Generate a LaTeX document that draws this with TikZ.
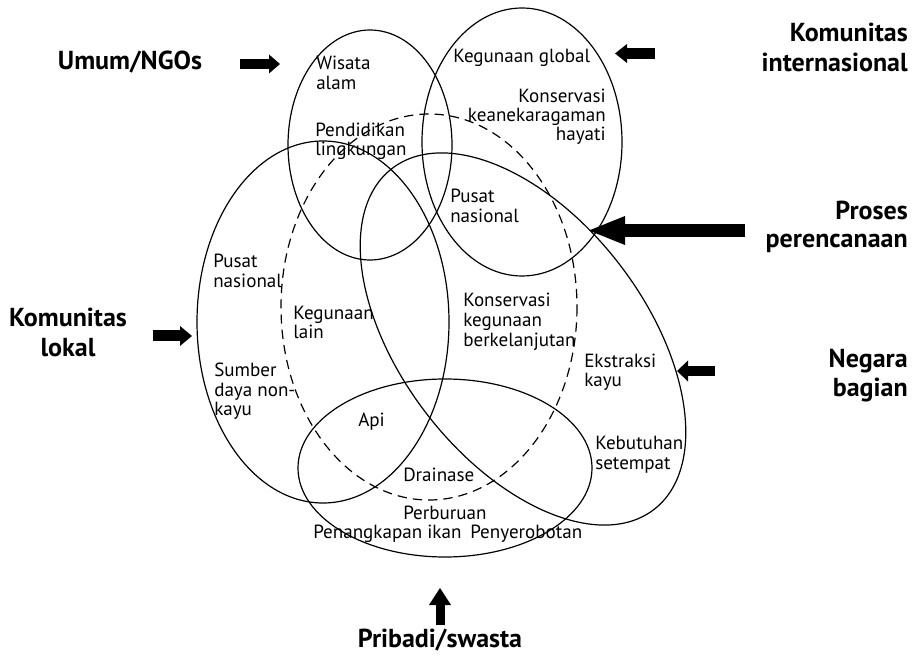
\documentclass[tikz,border=0pt]{standalone}
\usepackage{fontspec}
\setmainfont{PT Sans}
\usetikzlibrary{arrows.meta}
\begin{document}
\begin{tikzpicture}[x=0.75pt,y=-0.75pt,
  ring/.style={draw,line width=0.9pt},
  dashring/.style={draw,line width=0.9pt,dash pattern=on 7pt off 4.5pt},
  lbl/.style={inner sep=0pt,font=\fontsize{14.3}{15}\selectfont},
  biglbl/.style={inner sep=0pt,font=\bfseries\fontsize{19.5}{22}\selectfont},
  blk/.style={line width=#1*0.75pt},
]
\useasboundingbox (0,0) rectangle (915,659);

% ellipses
\coordinate (c1) at (370,145);
\coordinate (c2) at (522,142);
\coordinate (c3) at (323,322);
\coordinate (c4) at (523,339);
\coordinate (c5) at (445,468);
\coordinate (c6) at (429,307);
\draw[ring] (c1) ellipse [x radius=82, y radius=115];
\draw[ring] (c2) ellipse [x radius=100, y radius=134];
\draw[ring] (c3) ellipse [x radius=126, y radius=181];
\draw[ring,rotate around={-52.5:(c4)}] (c4) ellipse [x radius=215, y radius=122];
\draw[ring] (c5) ellipse [x radius=147, y radius=89];
\draw[dashring] (c6) ellipse [x radius=148, y radius=193];

% small labels
\node[lbl,anchor=base west] (t1a) at (316,70) {Wisata};
\node[lbl,anchor=base west] (t1b) at (316,90) {alam};
\node[lbl,anchor=base west] (t2) at (453,63) {Kegunaan global};
\node[lbl,anchor=base east] (t3a) at (606,103) {Konservasi};
\node[lbl,anchor=base east] (t3b) at (606,122) {keanekaragaman};
\node[lbl,anchor=base east] (t3c) at (606,141) {hayati};
\node[lbl,anchor=base west] (t4a) at (315,137) {Pendidikan};
\node[lbl,anchor=base west] (t4b) at (315,156) {lingkungan};
\node[lbl,anchor=base west] (t5a) at (450,203) {Pusat};
\node[lbl,anchor=base west] (t5b) at (450,223) {nasional};
\node[lbl,anchor=base west] (t6a) at (213,268) {Pusat};
\node[lbl,anchor=base west] (t6b) at (213,288) {nasional};
\node[lbl,anchor=base west] (t7a) at (293,320) {Kegunaan};
\node[lbl,anchor=base west] (t7b) at (293,339) {lain};
\node[lbl,anchor=base west] (t8a) at (463,307) {Konservasi};
\node[lbl,anchor=base west] (t8b) at (463,327) {kegunaan};
\node[lbl,anchor=base west] (t8c) at (463,347) {berkelanjutan};
\node[lbl,anchor=base west] (t9a) at (214,377) {Sumber};
\node[lbl,anchor=base west] (t9b) at (214,397) {daya non-};
\node[lbl,anchor=base west] (t9c) at (214,416) {kayu};
\node[lbl,anchor=base west] (t10a) at (584,368) {Ekstraksi};
\node[lbl,anchor=base west] (t10b) at (584,387) {kayu};
\node[lbl,anchor=base west] (t11) at (358,427) {Api};
\node[lbl,anchor=base west] (t12a) at (595,450) {Kebutuhan};
\node[lbl,anchor=base west] (t12b) at (595,470) {setempat};
\node[lbl,anchor=base west] (t13) at (403,482) {Drainase};
\node[lbl,anchor=base west] (t14) at (403,519) {Perburuan};
\node[lbl,anchor=base west] (t15) at (313,538) {Penangkapan ikan};
\node[lbl,anchor=base west] (t16) at (470,538) {Penyerobotan};

% actor labels
\node[biglbl,anchor=base] (umum) at (130,70) {Umum/NGOs};
\node[biglbl,anchor=base east] (intA) at (908,42) {Komunitas};
\node[biglbl,anchor=base east] (intB) at (908,72) {internasional};
\node[biglbl,anchor=base east] (prosA) at (908,220) {Proses};
\node[biglbl,anchor=base east] (prosB) at (908,248) {perencanaan};
\node[biglbl,anchor=base east] (negA) at (908,368) {Negara};
\node[biglbl,anchor=base east] (negB) at (908,397) {bagian};
\node[biglbl,anchor=base] (lokA) at (68,327) {Komunitas};
\node[biglbl,anchor=base] (lokB) at (68,357) {lokal};
\node[biglbl,anchor=base] (prib) at (440,647) {Pribadi/swasta};

% arrows
\coordinate (a1s) at (240,64);  \coordinate (a1e) at (280,64);
\coordinate (a2s) at (655,53.5);\coordinate (a2e) at (615,53.5);
\coordinate (a3s) at (745,230.5);\coordinate (a3e) at (589,230.5);
\coordinate (a4s) at (715,371); \coordinate (a4e) at (677,371);
\coordinate (a5s) at (153,336); \coordinate (a5e) at (192,336);
\coordinate (a6s) at (440,625); \coordinate (a6e) at (440,588);
\draw[blk=10,-{Triangle[length=11*0.75pt,width=19*0.75pt,line width=0pt]}] (a1s) -- (a1e);
\draw[blk=11,-{Triangle[length=12*0.75pt,width=19*0.75pt,line width=0pt]}] (a2s) -- (a2e);
\draw[blk=13,-{Triangle[length=36*0.75pt,width=29*0.75pt,line width=0pt]}] (a3s) -- (a3e);
\draw[blk=10,-{Triangle[length=11*0.75pt,width=21*0.75pt,line width=0pt]}] (a4s) -- (a4e);
\draw[blk=11,-{Triangle[length=12*0.75pt,width=20*0.75pt,line width=0pt]}] (a5s) -- (a5e);
\draw[blk=9,-{Triangle[length=17*0.75pt,width=22*0.75pt,line width=0pt]}] (a6s) -- (a6e);
\end{tikzpicture}
\end{document}
